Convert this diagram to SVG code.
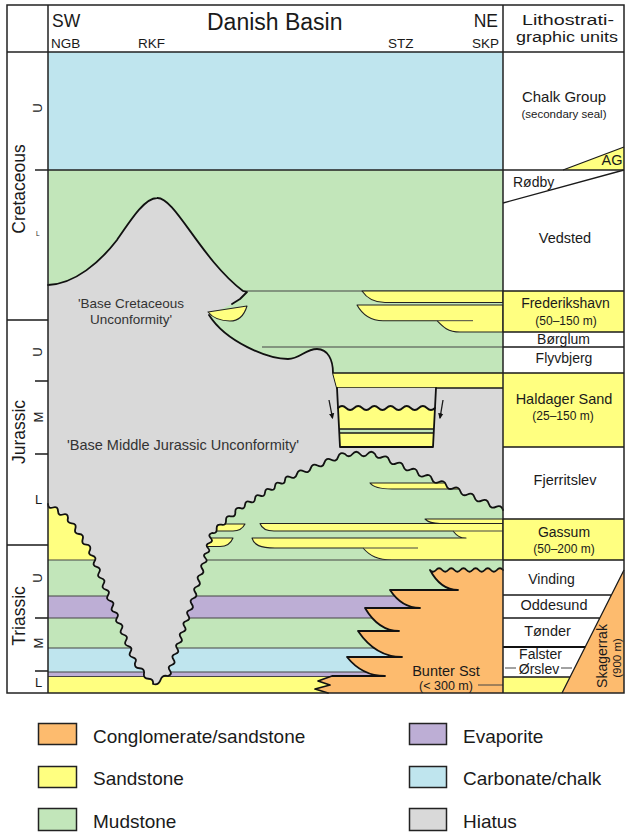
<svg xmlns="http://www.w3.org/2000/svg" width="625" height="834" viewBox="0 0 625 834">
<defs>
<style>
text{font-family:"Liberation Sans",Arial,sans-serif;fill:#1a1a1a}
.mid{text-anchor:middle}
.ttl{font-size:23px}
.hd{font-size:17.5px}
.loc{font-size:13.5px}
.per{font-size:17.5px}
.ep{font-size:13px}
.u{font-size:14px}
.us{font-size:12px}
.lg{font-size:19px}
.lbl{font-size:13.5px;fill:#333}
.gry{fill:#d9d9d9}
.blu{fill:#bfe5ee}
.grn{fill:#c2e6ba}
.yel{fill:#ffff80}
.org{fill:#fdbb6e}
.pur{fill:#bdaed5}
.ol{fill:none;stroke:#111;stroke-width:1.8;stroke-linejoin:round;stroke-linecap:round}
.thin{fill:none;stroke:#444;stroke-width:1}
.ln{fill:none;stroke:#1a1a1a;stroke-width:1.3}
.tg{stroke:#222;stroke-width:1.1;stroke-linejoin:round}
.lgb{stroke:#222;stroke-width:1.5}
</style>
<marker id="ah" viewBox="0 0 10 10" refX="8" refY="5" markerWidth="4.5" markerHeight="4.5" orient="auto"><path d="M0,0.5 L10,5 L0,9.5 z" fill="#111"/></marker>
</defs>
<rect width="625" height="834" fill="#fff"/>

<g id="basin">
<rect class="gry" x="48" y="52" width="455" height="641"/>
<rect class="blu" x="48" y="52" width="455" height="118"/>
<path class="grn" d="M48,170 H503 V291 H243 C200,258 175,197 157,198 C145,198 132,218 117,240 C100,262 75,284 48,285 Z"/>
<path class="grn" d="M243,291 H503 V373 H333 C333,360 328,349 317,349 C305,349 300,359 288,359 C268,359 226,342 209,315 L232,304 L240,299 L247,292 Z"/>
<path class="thin" d="M243,291 H503 M262,347 H503"/>
<path class="yel tg" d="M503,291 H362 C366,297 372,302.5 385,302.5 H503 Z"/>
<path class="yel tg" d="M503,305 H357 C362,314 370,320.7 383,320.7 H437 C443,327 448,332 460,332 H503 Z"/>
<path class="thin" d="M437,320.7 H473"/>
<path class="yel tg" d="M208,312 L247,306 C244,316 238,321 230,321 C220,321 213,318 208,312 Z"/>
<path class="ol" d="M48,285 C75,284 100,262 117,240 C132,218 145,198 157,198 C175,197 200,258 243,291 L247,292 L240,299 L232,304"/>
<path class="ol" d="M209,315 C226,342 268,359 288,359 C300,359 305,349 317,349 C328,349 333,360 333,373 L337,388"/>

<rect class="grn" x="48" y="440" width="455" height="120"/>
<rect class="yel" x="48" y="480" width="112" height="80"/>
<path class="yel tg" d="M370,483 H470 V489 H392 C381,489 373,487 370,483 Z"/>
<path class="yel tg" d="M503,519 H425 C428,522 433,523.5 440,523.5 H503 Z"/>
<path class="yel tg" d="M503,523.5 H260 C262,529 266,531 274,531 H453 C457,536 460,538 466,538 H252 C254,545 260,548 275,548 H363 C370,556 378,560 392,560 H503 Z"/>
<path class="thin" d="M453,531 H503 M363,548 H418"/>
<path class="yel tg" d="M200,524 H245 C243,528 240,531 233,531 H200 Z"/>
<path class="yel tg" d="M196,538 H233 C231,543 226,546.5 220,546.5 H196 Z"/>

<rect class="grn" x="48" y="560" width="455" height="36"/>
<rect class="pur" x="48" y="596" width="455" height="22"/>
<rect class="grn" x="48" y="618" width="455" height="30"/>
<rect class="blu" x="48" y="648" width="455" height="24"/>
<rect class="pur" x="48" y="672" width="455" height="4"/>
<rect class="yel" x="48" y="676" width="455" height="17"/>
<path class="thin" d="M48,560 H503 M48,596 H503 M48,618 H503 M48,648 H503 M48,672 H503 M48,676.5 H503"/>

<path class="org" d="M503,570 q-3.042,-3.5 -6.083,0 t-6.083,0 -6.083,0 -6.083,0 -6.083,0 -6.083,0 -6.083,0 -6.083,0 -6.083,0 -6.083,0 -6.083,0 -6.083,0 L430,570 C435.6,580.5 444,590 458,590 H390 C396,599 405,608 420,608 H365 C371.8,619.5 382,631 399,631 H358 C366.8,644 380,657 402,657 H347 C354.6,666.5 366,676 385,676 H332 L318,681 L330,685 L315,689 L328,693 H503 Z"/>
<path class="ol" d="M503,570 q-3.042,-3.5 -6.083,0 t-6.083,0 -6.083,0 -6.083,0 -6.083,0 -6.083,0 -6.083,0 -6.083,0 -6.083,0 -6.083,0 -6.083,0 -6.083,0 L430,570 C435.6,580.5 444,590 458,590 H390 C396,599 405,608 420,608 H365 C371.8,619.5 382,631 399,631 H358 C366.8,644 380,657 402,657 H347 C354.6,666.5 366,676 385,676 H332 L318,681 L330,685 L315,689 L328,693"/>
<path class="thin" d="M478,685 H518"/>

<path class="gry" d="M48,504 q0.2,5.05 5,3.5 t5,3.5 5,3.5 5,3.5 L68,518 q-1.47,4.94 3.667,5.333 t3.667,5.333 3.667,5.333 3.667,5.333 3.667,5.333 3.667,5.333 L90,550 q-2.6,4.31 2.25,5.65 t2.25,5.65 2.25,5.65 2.25,5.65 2.25,5.65 2.25,5.65 2.25,5.65 2.25,5.65 2.25,5.65 2.25,5.65 2.25,5.65 2.25,5.65 2.25,5.65 2.25,5.65 2.25,5.65 2.25,5.65 2.25,5.65 2.25,5.65 2.25,5.65 2.25,5.65 L135,663 q-0.78,5.23 4.5,5.25 t4.5,5.25 4.5,5.25 4.5,5.25 L153,684 q5.63,1.53 7.5,-4 t7.5,-4 L168,676 q4.71,-1.49 1.833,-5.5 t1.833,-5.5 1.833,-5.5 1.833,-5.5 1.833,-5.5 1.833,-5.5 1.833,-5.5 1.833,-5.5 1.833,-5.5 1.833,-5.5 1.833,-5.5 1.833,-5.5 L190,610 q4.71,-1.8 1.75,-5.875 t1.75,-5.875 1.75,-5.875 1.75,-5.875 1.75,-5.875 1.75,-5.875 1.75,-5.875 1.75,-5.875 L204,563 q4.53,-1.47 1.333,-5 t1.333,-5 1.333,-5 1.333,-5 1.333,-5 1.333,-5 L212,533 q5,0.9 4.667,-4.167 t4.667,-4.167 4.667,-4.167 4.667,-4.167 4.667,-4.167 4.667,-4.167 L240,508 q4.61,1.85 5,-3.1 t5,-3.1 5,-3.1 5,-3.1 5,-3.1 5,-3.1 5,-3.1 5,-3.1 5,-3.1 5,-3.1 L290,477 q5.18,2.71 6.875,-2.875 t6.875,-2.875 6.875,-2.875 6.875,-2.875 6.875,-2.875 6.875,-2.875 6.875,-2.875 6.875,-2.875 L345,454 q3.75,4.5 7.5,0 t7.5,0 7.5,0 7.5,0 L375,454 q1.75,5.68 7.111,3.111 t7.111,3.111 7.111,3.111 7.111,3.111 7.111,3.111 7.111,3.111 7.111,3.111 7.111,3.111 7.111,3.111 7.111,3.111 7.111,3.111 7.111,3.111 7.111,3.111 7.111,3.111 7.111,3.111 7.111,3.111 7.111,3.111 7.111,3.111 L503,510 V430 H48 Z"/>
<path class="ol" d="M48,504 q0.2,5.05 5,3.5 t5,3.5 5,3.5 5,3.5 L68,518 q-1.47,4.94 3.667,5.333 t3.667,5.333 3.667,5.333 3.667,5.333 3.667,5.333 3.667,5.333 L90,550 q-2.6,4.31 2.25,5.65 t2.25,5.65 2.25,5.65 2.25,5.65 2.25,5.65 2.25,5.65 2.25,5.65 2.25,5.65 2.25,5.65 2.25,5.65 2.25,5.65 2.25,5.65 2.25,5.65 2.25,5.65 2.25,5.65 2.25,5.65 2.25,5.65 2.25,5.65 2.25,5.65 2.25,5.65 L135,663 q-0.78,5.23 4.5,5.25 t4.5,5.25 4.5,5.25 4.5,5.25 L153,684 q5.63,1.53 7.5,-4 t7.5,-4 L168,676 q4.71,-1.49 1.833,-5.5 t1.833,-5.5 1.833,-5.5 1.833,-5.5 1.833,-5.5 1.833,-5.5 1.833,-5.5 1.833,-5.5 1.833,-5.5 1.833,-5.5 1.833,-5.5 1.833,-5.5 L190,610 q4.71,-1.8 1.75,-5.875 t1.75,-5.875 1.75,-5.875 1.75,-5.875 1.75,-5.875 1.75,-5.875 1.75,-5.875 1.75,-5.875 L204,563 q4.53,-1.47 1.333,-5 t1.333,-5 1.333,-5 1.333,-5 1.333,-5 1.333,-5 L212,533 q5,0.9 4.667,-4.167 t4.667,-4.167 4.667,-4.167 4.667,-4.167 4.667,-4.167 4.667,-4.167 L240,508 q4.61,1.85 5,-3.1 t5,-3.1 5,-3.1 5,-3.1 5,-3.1 5,-3.1 5,-3.1 5,-3.1 5,-3.1 5,-3.1 L290,477 q5.18,2.71 6.875,-2.875 t6.875,-2.875 6.875,-2.875 6.875,-2.875 6.875,-2.875 6.875,-2.875 6.875,-2.875 6.875,-2.875 L345,454 q3.75,4.5 7.5,0 t7.5,0 7.5,0 7.5,0 L375,454 q1.75,5.68 7.111,3.111 t7.111,3.111 7.111,3.111 7.111,3.111 7.111,3.111 7.111,3.111 7.111,3.111 7.111,3.111 7.111,3.111 7.111,3.111 7.111,3.111 7.111,3.111 7.111,3.111 7.111,3.111 7.111,3.111 7.111,3.111 7.111,3.111 7.111,3.111 L503,510"/>

<path class="yel" d="M333,373 H503 V388 H337 Z"/>
<path class="ln" d="M333,373 H503 M337,388 H503"/>
<path class="gry" d="M337,388 H436 L433,447 H340 Z"/>
<path class="yel" d="M338,408 q4.042,-4 8.083,0 t8.083,0 8.083,0 8.083,0 8.083,0 8.083,0 8.083,0 8.083,0 8.083,0 8.083,0 8.083,0 8.083,0 L435,408 L433.9,429 H339.1 Z"/>
<path class="grn" d="M339.1,429 H433.9 L433.7,433 H339.2 Z"/>
<path class="yel" d="M339.2,433 H433.7 L433,447 H340 Z"/>
<path class="ol" d="M338,408 q4.042,-4 8.083,0 t8.083,0 8.083,0 8.083,0 8.083,0 8.083,0 8.083,0 8.083,0 8.083,0 8.083,0 8.083,0 8.083,0 L435,408"/>
<path class="ln" d="M339.1,429 H433.9 M339.2,433 H433.7"/>
<path class="ol" d="M337,388 L340,447 H433 L436,388"/>

<text class="lbl mid" x="131" y="308">'Base Cretaceous</text>
<text class="lbl mid" x="131" y="324">Unconformity'</text>
<text class="lbl mid" x="183" y="450" style="font-size:14.5px">'Base Middle Jurassic Unconformity'</text>
<text class="mid" x="446" y="676" style="font-size:14.5px">Bunter Sst</text>
<text class="mid" x="446" y="690" style="font-size:12.5px">(&lt; 300 m)</text>
</g>

<g id="connectors">
<path class="ln" d="M329,400 L332.5,418" marker-end="url(#ah)"/>
<path class="ln" d="M443,400 L440,418" marker-end="url(#ah)"/>
</g>

<g id="units">
<path class="yel" d="M503,291 H624 V332 H503 Z M503,373 H624 V447 H503 Z M503,519 H624 V560 H503 Z"/>
<path class="yel" d="M563,170 L624,147 V170 Z"/>
<path class="yel" d="M503,677 H570 L562,693 H503 Z"/>
<path class="org" d="M562,693 L624,570 V693 Z"/>
<path class="ln" d="M563,170 L624,147 M503,203 L624,170 M503,291 H624 M503,332 H624 M503,347 H624 M503,373 H624 M503,447 H624 M503,519 H624 M503,560 H624 M503,595 H611.4 M503,618 H599.8 M503,677 H570 M562,693 L624,570"/>
<path d="M503,647 H585.2" fill="none" stroke="#111" stroke-width="1.8"/>
<path class="thin" d="M505,668 H516 M561,668 H572"/>
<text class="mid" x="564" y="102" style="font-size:15px">Chalk Group</text>
<text class="mid" x="564" y="118" style="font-size:11.5px">(secondary seal)</text>
<text class="mid" x="612" y="165" style="font-size:14.5px">AG</text>
<text x="513" y="187" class="u">Rødby</text>
<text class="mid u" x="565" y="243" style="font-size:14.5px">Vedsted</text>
<text class="mid u" x="565.5" y="308">Frederikshavn</text>
<text class="mid us" x="566" y="325">(50–150 m)</text>
<text class="mid u" x="563.5" y="343.5">Børglum</text>
<text class="mid u" x="564" y="363">Flyvbjerg</text>
<text class="mid u" x="564" y="404" style="font-size:14.5px">Haldager Sand</text>
<text class="mid us" x="563" y="420">(25–150 m)</text>
<text class="mid u" x="565" y="485" style="font-size:14.5px">Fjerritslev</text>
<text class="mid u" x="564" y="537">Gassum</text>
<text class="mid us" x="564" y="553">(50–200 m)</text>
<text class="mid u" x="551.5" y="584">Vinding</text>
<text class="mid u" x="554" y="610" style="font-size:14.5px">Oddesund</text>
<text class="mid u" x="547.5" y="636" style="font-size:14.5px">Tønder</text>
<text class="mid u" x="540.5" y="659">Falster</text>
<text class="mid u" x="539" y="674">Ørslev</text>
<text class="mid u" transform="translate(607,656) rotate(-90)">Skagerrak</text>
<text class="mid" transform="translate(621,658) rotate(-90)" style="font-size:11.5px">(900 m)</text>
</g>

<g id="timescale">
<path class="ln" d="M7,320 H48 M7,545 H48 M35,381 H48 M35,454 H48 M35,618 H48 M35,671 H48"/>
<text class="mid per" transform="translate(25,189) rotate(-90)">Cretaceous</text>
<text class="mid per" transform="translate(25,432) rotate(-90)">Jurassic</text>
<text class="mid per" transform="translate(25,616) rotate(-90)">Triassic</text>
<text class="mid ep" transform="translate(42,108) rotate(-90)">U</text>
<text x="36" y="236" style="font-size:6.5px">L</text>
<text class="mid ep" transform="translate(42,352) rotate(-90)">U</text>
<text class="mid ep" transform="translate(43,417) rotate(-90)">M</text>
<text class="ep" x="35" y="504">L</text>
<text class="mid ep" transform="translate(42,578) rotate(-90)">U</text>
<text class="mid ep" transform="translate(43,643) rotate(-90)">M</text>
<text class="ep" x="35" y="687">L</text>
</g>

<g id="header">
<text class="hd" x="52" y="27">SW</text>
<text class="hd" x="498" y="27" text-anchor="end">NE</text>
<text class="ttl" x="207" y="30">Danish Basin</text>
<text class="loc" x="51" y="48">NGB</text>
<text class="loc" x="138" y="48">RKF</text>
<text class="loc" x="388" y="48">STZ</text>
<text class="loc" x="499" y="48" text-anchor="end">SKP</text>
<text class="mid" x="568" y="25" style="font-size:15.5px" textLength="92" lengthAdjust="spacingAndGlyphs">Lithostrati-</text>
<text class="mid" x="567" y="42" style="font-size:15.5px" textLength="102" lengthAdjust="spacingAndGlyphs">graphic units</text>
</g>

<g id="frame">
<rect x="7" y="5" width="617" height="688" fill="none" stroke="#222" stroke-width="1.5"/>
<path d="M48,5 V693 M503,5 V693 M7,52 H624 M35,170 H624" fill="none" stroke="#222" stroke-width="1.5"/>
</g>

<g id="legend">
<rect class="org lgb" x="38.5" y="723.5" width="38" height="21"/>
<text class="lg" x="93" y="743">Conglomerate/sandstone</text>
<rect class="yel lgb" x="38.5" y="766.5" width="38" height="21"/>
<text class="lg" x="93" y="785">Sandstone</text>
<rect class="grn lgb" x="38.5" y="808.5" width="38" height="22"/>
<text class="lg" x="93" y="828">Mudstone</text>
<rect class="pur lgb" x="409.5" y="723.5" width="37" height="21"/>
<text class="lg" x="463" y="743">Evaporite</text>
<rect class="blu lgb" x="409.5" y="766.5" width="37" height="21"/>
<text class="lg" x="463" y="785">Carbonate/chalk</text>
<rect class="gry lgb" x="409.5" y="808.5" width="37" height="22"/>
<text class="lg" x="463" y="828">Hiatus</text>
</g>
</svg>
